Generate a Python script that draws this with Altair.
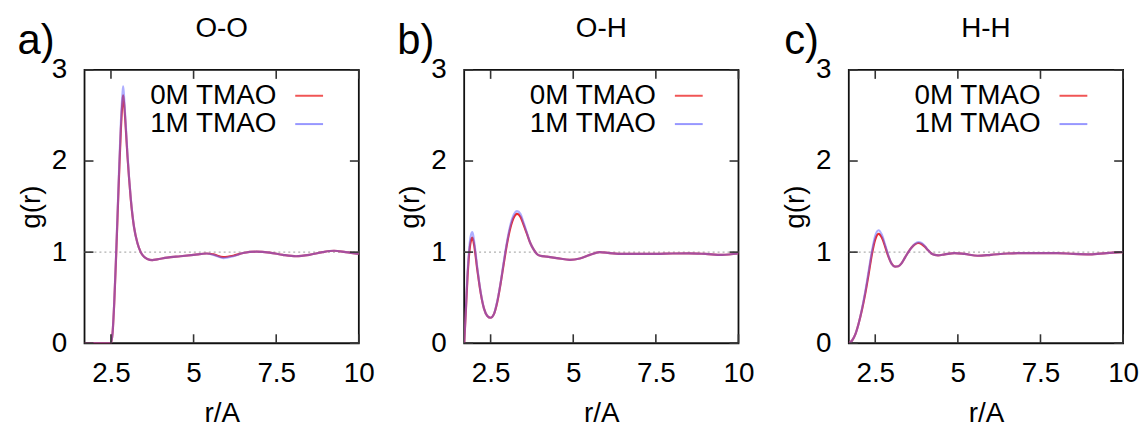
import altair as alt
import pandas as pd

panels = ["O-O", "O-H", "H-H"]
letters = ["a)", "b)", "c)"]
series = ["0M TMAO", "1M TMAO"]
colors = ["#ec2a2a", "#6b6bff"]
x_ticks = [2.5, 5, 7.5, 10]
y_ticks = [0, 1, 2, 3]

# O-O
r_oo = [1.7, 2.0, 2.4, 2.5, 2.55, 2.6, 2.65, 2.7, 2.75, 2.8, 2.85, 2.87, 2.9, 2.95, 3.0,
        3.05, 3.1, 3.2, 3.3, 3.4, 3.5, 3.6, 3.75, 3.9, 4.2, 4.6, 5.0, 5.4, 5.6, 5.9,
        6.2, 6.5, 6.9, 7.3, 7.7, 8.1, 8.5, 8.9, 9.25, 9.6, 10.0]
g_oo_0 = [0, 0, 0, 0.0, 0.12, 0.45, 0.9, 1.4, 1.9, 2.35, 2.66, 2.72, 2.62, 2.35, 2.05,
          1.8, 1.58, 1.27, 1.1, 1.0, 0.95, 0.925, 0.912, 0.92, 0.94, 0.955, 0.97, 0.985, 0.975, 0.945,
          0.96, 0.99, 1.005, 0.995, 0.97, 0.955, 0.97, 1.0, 1.015, 1.0, 0.98]
g_oo_1 = [0, 0, 0, 0.0, 0.12, 0.46, 0.92, 1.43, 1.95, 2.42, 2.74, 2.82, 2.68, 2.38, 2.07,
          1.81, 1.59, 1.27, 1.1, 1.0, 0.95, 0.925, 0.912, 0.92, 0.94, 0.955, 0.97, 0.985, 0.97, 0.935,
          0.955, 0.99, 1.005, 0.995, 0.97, 0.955, 0.97, 1.0, 1.015, 1.0, 0.98]

# O-H
r_oh = [1.7, 1.75, 1.8, 1.85, 1.9, 1.95, 2.0, 2.1, 2.2, 2.3, 2.4, 2.5, 2.6, 2.7, 2.8, 2.9,
        3.0, 3.1, 3.2, 3.3, 3.4, 3.5, 3.6, 3.7, 3.8, 3.9, 4.0, 4.2, 4.5, 4.9, 5.2, 5.5,
        5.8, 6.1, 6.5, 7.0, 7.5, 8.0, 8.5, 9.0, 9.5, 10.0]
g_oh_0 = [0.0, 0.35, 0.72, 0.98, 1.12, 1.16, 1.08, 0.8, 0.55, 0.38, 0.3, 0.28, 0.32, 0.45, 0.65, 0.88,
          1.1, 1.27, 1.38, 1.42, 1.39, 1.3, 1.2, 1.1, 1.03, 0.98, 0.96, 0.95, 0.935, 0.915, 0.93, 0.97,
          1.0, 0.99, 0.98, 0.98, 0.98, 0.985, 0.987, 0.98, 0.97, 0.985]
g_oh_1 = [0.0, 0.37, 0.76, 1.03, 1.18, 1.22, 1.12, 0.82, 0.56, 0.38, 0.3, 0.28, 0.32, 0.46, 0.66, 0.9,
          1.12, 1.3, 1.41, 1.45, 1.42, 1.32, 1.21, 1.1, 1.03, 0.98, 0.96, 0.95, 0.935, 0.915, 0.93, 0.97,
          1.0, 0.99, 0.98, 0.98, 0.98, 0.985, 0.987, 0.98, 0.97, 0.985]

# H-H
r_hh = [1.7, 1.8, 1.9, 2.0, 2.1, 2.2, 2.3, 2.4, 2.5, 2.6, 2.7, 2.8, 2.9, 3.0, 3.1, 3.2,
        3.3, 3.4, 3.5, 3.6, 3.7, 3.8, 3.9, 4.0, 4.1, 4.2, 4.3, 4.4, 4.6, 4.9, 5.2, 5.6,
        6.0, 6.5, 7.0, 7.5, 8.0, 8.5, 9.0, 9.5, 10.0]
g_hh_0 = [0.0, 0.03, 0.1, 0.22, 0.37, 0.55, 0.76, 0.98, 1.14, 1.2, 1.16, 1.06, 0.95, 0.87, 0.84, 0.845,
          0.88, 0.94, 1.0, 1.05, 1.085, 1.1, 1.09, 1.06, 1.02, 0.985, 0.97, 0.965, 0.975, 0.99, 0.98, 0.96,
          0.97, 0.985, 0.99, 0.99, 0.99, 0.98, 0.975, 0.99, 1.0]
g_hh_1 = [0.0, 0.03, 0.1, 0.22, 0.38, 0.57, 0.79, 1.01, 1.18, 1.24, 1.19, 1.08, 0.96, 0.87, 0.84, 0.845,
          0.88, 0.94, 1.0, 1.05, 1.09, 1.11, 1.1, 1.065, 1.02, 0.985, 0.97, 0.965, 0.975, 0.99, 0.98, 0.96,
          0.97, 0.985, 0.99, 0.99, 0.99, 0.98, 0.975, 0.99, 1.0]

W, H = 276, 275
FONT = "Liberation Sans"
FS = 28


def panel(i, r, g0, g1):
    xs = alt.Scale(domain=[1.7, 10], nice=False, zero=False)
    ys = alt.Scale(domain=[0, 3], nice=False, zero=False)
    xax = alt.Axis(values=x_ticks, labelExpr="toString(datum.value)", title="r/A", ticks=False,
                   domain=False, grid=False, labelFlush=False, labelBound=False, labelOverlap=False,
                   labelPadding=17, titlePadding=12)
    yax = alt.Axis(values=y_ticks, format="d", title="g(r)", ticks=False, domain=False, grid=False,
                   labelPadding=18, titlePadding=6, labelFlush=False)
    X = alt.X("r:Q", scale=xs, axis=xax)
    Y = alt.Y("g:Q", scale=ys, axis=yax)

    d0 = pd.DataFrame({"r": r, "g": g0})
    d1 = pd.DataFrame({"r": r, "g": g1})
    dy = pd.DataFrame({"g": y_ticks})
    dx = pd.DataFrame({"r": x_ticks})
    one = pd.DataFrame({"g": [1]})

    dotted = alt.Chart(one).mark_rule(color="#b0b0b0", strokeDash=[2, 3], strokeWidth=1.2).encode(
        y=Y, x=alt.value(0), x2=alt.value(W))
    tick_l = alt.Chart(dy).mark_rule(color="#333", strokeWidth=1.6).encode(
        y=Y, x=alt.value(0), x2=alt.value(9))
    tick_r = alt.Chart(dy).mark_rule(color="#333", strokeWidth=1.6).encode(
        y=Y, x=alt.value(W - 9), x2=alt.value(W))
    tick_b = alt.Chart(dx).mark_rule(color="#333", strokeWidth=1.6).encode(
        x=X, y=alt.value(H), y2=alt.value(H - 9))
    tick_t = alt.Chart(dx).mark_rule(color="#333", strokeWidth=1.6).encode(
        x=X, y=alt.value(0), y2=alt.value(9))
    l0 = alt.Chart(d0).mark_line(interpolate="monotone", strokeWidth=2.2, color=colors[0], clip=True).encode(x=X, y=Y)
    l1 = alt.Chart(d1).mark_line(interpolate="monotone", strokeWidth=2.2, color=colors[1], opacity=0.55,
                                 clip=True).encode(x=X, y=Y)

    head = alt.Chart(pd.DataFrame({"t": [panels[i]]})).mark_text(
        fontSize=FS, font=FONT, align="center", baseline="middle", color="black").encode(
        text="t:N", x=alt.value(W / 2), y=alt.value(-41))
    letter = alt.Chart(pd.DataFrame({"t": [letters[i]]})).mark_text(
        fontSize=42, font=FONT, align="right", baseline="alphabetic", color="black").encode(
        text="t:N", x=alt.value(-30), y=alt.value(-16))

    leg = []
    for k, s in enumerate(series):
        yy = 26 + 28.5 * k
        leg.append(alt.Chart(pd.DataFrame({"t": [s]})).mark_text(
            fontSize=28, font=FONT, align="right", baseline="middle", color="black").encode(
            text="t:N", x=alt.value(193), y=alt.value(yy)))
        leg.append(alt.Chart(pd.DataFrame({"t": [s]})).mark_rule(
            color=colors[k], strokeWidth=2, opacity=0.8 if k == 0 else 0.7).encode(
            x=alt.value(212), x2=alt.value(240), y=alt.value(yy)))

    return alt.layer(dotted, l0, l1, tick_l, tick_r, tick_b, tick_t, head, letter, *leg).properties(
        width=W, height=H)


inner = alt.hconcat(
    panel(0, r_oo, g_oo_0, g_oo_1),
    panel(1, r_oh, g_oh_0, g_oh_1),
    spacing=20,
)
chart = alt.hconcat(inner, panel(2, r_hh, g_hh_0, g_hh_1), spacing=25).configure_view(
    stroke="#111", strokeWidth=1.8
).configure_axis(
    labelFont=FONT, titleFont=FONT, labelFontSize=FS, titleFontSize=FS,
    labelColor="black", titleColor="black", titleFontWeight="normal"
).properties(padding={"left": 8, "top": 5, "right": 0, "bottom": 0})

chart.save("out.html", embed_options={"renderer": "svg", "actions": False})
